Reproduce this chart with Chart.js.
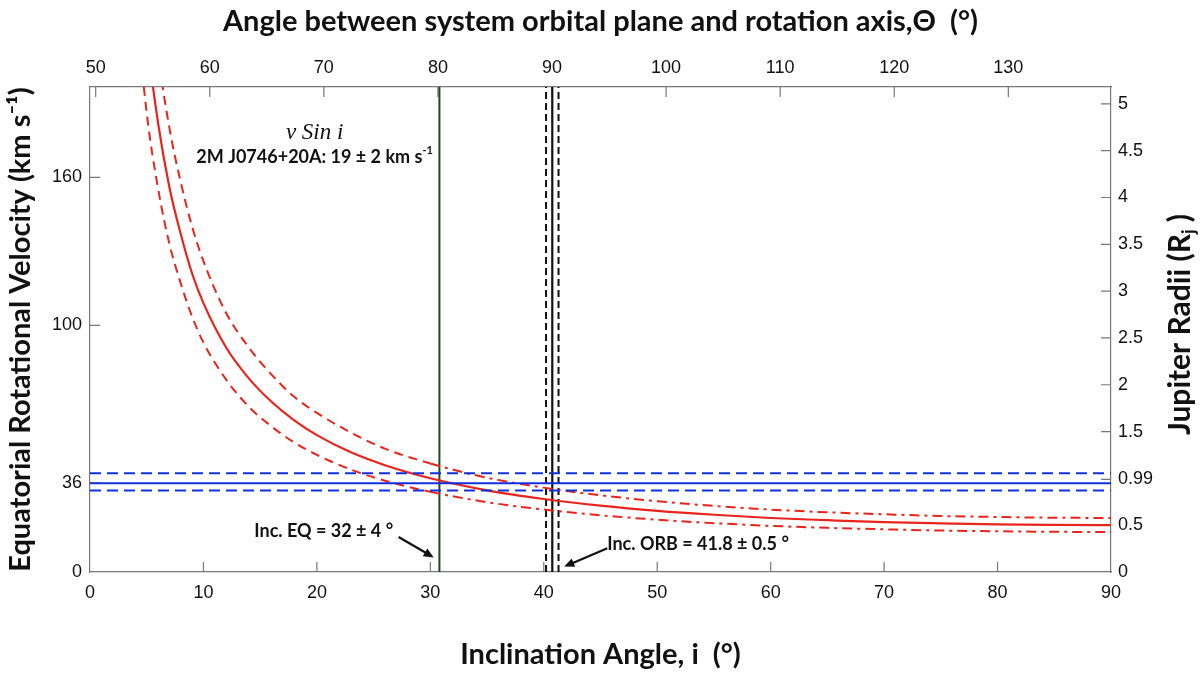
<!DOCTYPE html>
<html>
<head>
<meta charset="utf-8">
<script src="https://cdn.jsdelivr.net/npm/chart.js@4.4.1/dist/chart.umd.min.js"></script>
<style>
  body { margin: 0; background: #fff; }
  #wrap { width: 1200px; height: 675px; position: relative; }
</style>
</head>
<body>
<div id="wrap"><canvas id="vsiniChart"></canvas></div>
<script>
// inclination angle (deg) sampled along the curves
const inclination = [4, 5, 6, 7, 8, 9, 10, 12, 14, 16, 18, 20, 23, 26, 30, 35, 40, 45, 50, 55, 60, 65, 70, 75, 80, 85, 90];
// equatorial velocity (km/s)
const velMid   = [272, 218, 182, 156, 137, 121, 109, 91, 78.5, 69, 61.5, 55.5, 48.5, 43.3, 38, 33.1, 29.6, 26.9, 24.8, 23.2, 21.9, 21, 20.2, 19.7, 19.3, 19.1, 19];
const velUpper = [314, 252, 210, 180, 158, 140, 126, 105, 91, 80, 71, 64.5, 56.5, 50, 44, 38.2, 34.2, 31.1, 28.7, 26.8, 25.3, 24.2, 23.4, 22.7, 22.3, 22, 21.9];
const velLower = [233, 186, 155.5, 133, 117, 103.5, 93, 78, 67, 59, 52.5, 47.5, 41.5, 37, 32.5, 28.3, 25.3, 23, 21.2, 19.8, 18.7, 17.9, 17.3, 16.8, 16.5, 16.3, 16.2];

// horizontal levels (km/s) for 0.99 Rj
const eqVel = 36, eqVelHi = 40, eqVelLo = 33;
// vertical markers (deg)
const incEq = 30.8;
const incOrb = 40.75, incOrbLo = 40.2, incOrbHi = 41.3;

// axis ranges and tick labels
const velMax = 196.6;
const radMax = 5.18;
const leftTicks = [0, 36, 100, 160];
const rightTicks = [0, 0.5, 0.99, 1.5, 2, 2.5, 3, 3.5, 4, 4.5, 5];
const topTicks = [50, 60, 70, 80, 90, 100, 110, 120, 130];

const RED = '#e8241c', BLUE = '#1030e0', GREEN = '#1d4a1d';
const tickFont = { family: 'Liberation Sans, Arial, sans-serif', size: 18 };
const titleFont = { family: 'Lato, sans-serif', size: 29, weight: 'bold' };

function curve(vals) {
    return vals.map((v, k) => ({ x: inclination[k], y: v }));
}
function hline(y) { return [{ x: 0, y: y }, { x: 90, y: y }]; }
function vline(x) { return [{ x: x, y: 0 }, { x: x, y: velMax }]; }

const dashedThenDot = c => c.p0.parsed.x >= 30 ? [10, 5, 3, 5] : [9, 6];

// inward tick marks like the original plot
const innerTicks = {
    id: 'innerTicks',
    beforeDatasetsDraw(chart) {
        const { ctx, chartArea: a, scales } = chart;
        const len = 10;
        ctx.save();
        ctx.strokeStyle = '#777';
        ctx.lineWidth = 1.2;
        ctx.beginPath();
        scales.x.ticks.forEach(t => {
            if (t.value <= 0 || t.value >= 90) return;
            const p = scales.x.getPixelForValue(t.value);
            ctx.moveTo(p, a.bottom); ctx.lineTo(p, a.bottom - len);
        });
        scales.x2.ticks.forEach(t => {
            const p = scales.x2.getPixelForValue(t.value);
            ctx.moveTo(p, a.top); ctx.lineTo(p, a.top + len);
        });
        scales.y.ticks.forEach(t => {
            if (t.value <= 0) return;
            const p = scales.y.getPixelForValue(t.value);
            ctx.moveTo(a.left, p); ctx.lineTo(a.left + len, p);
        });
        scales.y2.ticks.forEach(t => {
            if (t.value <= 0) return;
            const p = scales.y2.getPixelForValue(t.value);
            ctx.moveTo(a.right, p); ctx.lineTo(a.right - len, p);
        });
        ctx.stroke();
        ctx.restore();
    }
};

function supText(ctx, parts, cx, cy, size, family) {
    // parts: [[text, isSup]]
    const full = `bold ${size}px ${family}`;
    const small = `bold ${Math.round(size * 0.62)}px ${family}`;
    let w = 0;
    parts.forEach(p => { ctx.font = p[1] ? small : full; w += ctx.measureText(p[0]).width; });
    let x = cx - w / 2;
    ctx.textAlign = 'left';
    parts.forEach(p => {
        ctx.font = p[1] ? small : full;
        ctx.fillText(p[0], x, p[1] ? cy - size * 0.38 : cy);
        x += ctx.measureText(p[0]).width;
    });
}

function arrow(ctx, x0, y0, x1, y1) {
    const ang = Math.atan2(y1 - y0, x1 - x0);
    const h = 11;
    ctx.beginPath();
    ctx.moveTo(x0, y0);
    ctx.lineTo(x1 - Math.cos(ang) * h * 0.8, y1 - Math.sin(ang) * h * 0.8);
    ctx.stroke();
    ctx.beginPath();
    ctx.moveTo(x1, y1);
    ctx.lineTo(x1 - h * Math.cos(ang - 0.42), y1 - h * Math.sin(ang - 0.42));
    ctx.lineTo(x1 - h * Math.cos(ang + 0.42), y1 - h * Math.sin(ang + 0.42));
    ctx.closePath();
    ctx.fill();
}

const notes = {
    id: 'notes',
    afterDraw(chart) {
        const { ctx, scales } = chart;
        const X = v => scales.x.getPixelForValue(v);
        const Y = v => scales.y.getPixelForValue(v);
        ctx.save();
        ctx.fillStyle = '#111';
        ctx.strokeStyle = '#111';
        ctx.textBaseline = 'middle';

        ctx.font = 'italic 23px "Liberation Serif", "DejaVu Serif", serif';
        ctx.textAlign = 'center';
        ctx.fillText('v Sin i', X(19.8), Y(178));

        supText(ctx, [['2M J0746+20A: 19 \u00b1 2 km s', false], ['-1', true]], X(19.8), Y(168), 18, 'Lato, sans-serif');

        ctx.font = 'bold 18px Lato, sans-serif';
        ctx.textAlign = 'center';
        ctx.fillText('Inc. EQ = 32 \u00b1 4 \u00b0', X(20.6), Y(16.6));
        ctx.fillText('Inc. ORB = 41.8 \u00b1 0.5 \u00b0', X(53.6), Y(11.2));

        ctx.lineWidth = 2.2;
        arrow(ctx, X(27.2), Y(14.2), X(30.3), Y(5.9));
        arrow(ctx, X(45.6), Y(9.6), X(41.8), Y(2.2));

        // right axis title, reading bottom to top with subscript j
        const a = chart.chartArea;
        ctx.translate(1180, (a.top + a.bottom) / 2 - 5);
        ctx.rotate(-Math.PI / 2);
        const big = 'bold 30px Lato, sans-serif';
        const sm = 'bold 18px Lato, sans-serif';
        ctx.font = big;
        const w1 = ctx.measureText('Jupiter Radii (R').width;
        ctx.font = sm;
        const w2 = ctx.measureText('j').width;
        ctx.font = big;
        const w3 = ctx.measureText(' )').width;
        let x = -(w1 + w2 + w3) / 2;
        ctx.textAlign = 'left';
        ctx.fillText('Jupiter Radii (R', x, 0);
        x += w1;
        ctx.font = sm;
        ctx.fillText('j', x, 9);
        x += w2;
        ctx.font = big;
        ctx.fillText(' )', x, 0);
        ctx.restore();
    }
};

const ctx = document.getElementById('vsiniChart').getContext('2d');
new Chart(ctx, {
    type: 'line',
    data: {
        datasets: [
            { data: hline(eqVelHi), borderColor: BLUE, borderWidth: 2, borderDash: [11, 6] },
            { data: hline(eqVelLo), borderColor: BLUE, borderWidth: 2, borderDash: [11, 6] },
            { data: hline(eqVel), borderColor: BLUE, borderWidth: 2 },
            { data: curve(velUpper), borderColor: RED, borderWidth: 2, cubicInterpolationMode: 'monotone', segment: { borderDash: dashedThenDot } },
            { data: curve(velLower), borderColor: RED, borderWidth: 2, cubicInterpolationMode: 'monotone', segment: { borderDash: dashedThenDot } },
            { data: curve(velMid), borderColor: RED, borderWidth: 2.2, cubicInterpolationMode: 'monotone' },
            { data: vline(incEq), borderColor: GREEN, borderWidth: 2 },
            { data: vline(incOrbLo), borderColor: '#111', borderWidth: 2, borderDash: [7, 4] },
            { data: vline(incOrbHi), borderColor: '#111', borderWidth: 2, borderDash: [7, 4] },
            { data: vline(incOrb), borderColor: '#111', borderWidth: 2.2 }
        ]
    },
    options: {
        responsive: true,
        maintainAspectRatio: false,
        animation: false,
        elements: { point: { radius: 0, hoverRadius: 0 }, line: { fill: false } },
        plugins: { legend: { display: false }, tooltip: { enabled: false } },
        scales: {
            x: {
                type: 'linear', position: 'bottom', min: 0, max: 90,
                afterFit: s => { s.height = 103; },
                ticks: { stepSize: 10, font: tickFont, color: '#111', padding: 10, maxRotation: 0 },
                grid: { display: false, drawTicks: false },
                border: { display: true, color: '#777', width: 1.2 },
                title: { display: true, text: 'Inclination Angle, i  (\u00b0)', font: titleFont, color: '#111', padding: { top: 0, bottom: 3 } }
            },
            x2: {
                type: 'linear', position: 'top', min: 49.5, max: 139,
                afterFit: s => { s.height = 87; },
                afterBuildTicks: s => { s.ticks = topTicks.map(v => ({ value: v })); },
                ticks: { font: tickFont, color: '#111', padding: 8, maxRotation: 0 },
                grid: { display: false, drawTicks: false },
                border: { display: true, color: '#777', width: 1.2 },
                title: { display: true, text: 'Angle between system orbital plane and rotation axis,\u0398  (\u00b0)', font: titleFont, color: '#111', padding: { top: 4, bottom: 0 } }
            },
            y: {
                type: 'linear', position: 'left', min: 0, max: velMax,
                afterFit: s => { s.width = 90; },
                afterBuildTicks: s => { s.ticks = leftTicks.map(v => ({ value: v })); },
                ticks: { font: tickFont, color: '#111', padding: 8 },
                grid: { display: false, drawTicks: false },
                border: { display: true, color: '#777', width: 1.2 },
                title: { display: true, text: 'Equatorial Rotational Velocity (km s\u207b\u00b9)', font: titleFont, color: '#111', padding: { top: 3, bottom: 0 } }
            },
            y2: {
                type: 'linear', position: 'right', min: 0, max: radMax,
                afterFit: s => { s.width = 89; },
                afterBuildTicks: s => { s.ticks = rightTicks.map(v => ({ value: v })); },
                ticks: { font: tickFont, color: '#111', padding: 7, callback: v => String(v) },
                grid: { display: false, drawTicks: false },
                border: { display: true, color: '#777', width: 1.2 }
            }
        }
    },
    plugins: [innerTicks, notes]
});
</script>
</body>
</html>
